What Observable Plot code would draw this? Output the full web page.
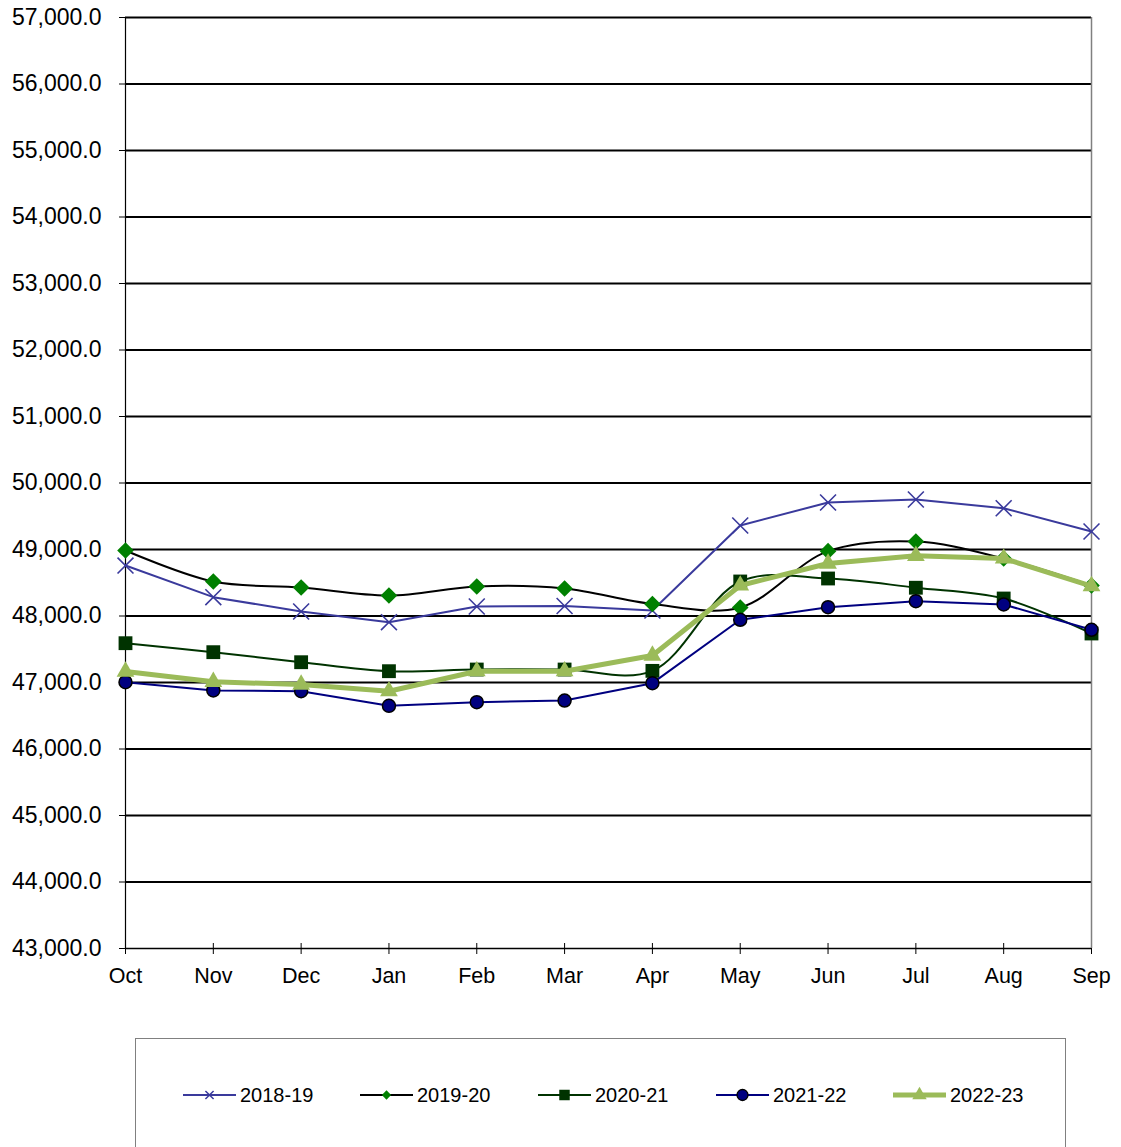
<!DOCTYPE html>
<html>
<head>
<meta charset="utf-8">
<script src="https://cdn.jsdelivr.net/npm/d3@7"></script>
<script src="https://cdn.jsdelivr.net/npm/@observablehq/plot@0.6"></script>
<style>
  html, body { margin: 0; padding: 0; background: #fff; overflow: hidden; }
  body { width: 1121px; height: 1147px; position: relative; font-family: "Liberation Sans", Arial, sans-serif; }
  #chart { position: absolute; left: 0; top: 0; }
  #legend { position: absolute; left: 135px; top: 1038px; width: 931px; height: 120px; border: 1px solid #808080; box-sizing: border-box; background: #fff; }
</style>
</head>
<body>
<div id="chart"></div>
<div id="legend"></div>
<script>
const months = ["Oct","Nov","Dec","Jan","Feb","Mar","Apr","May","Jun","Jul","Aug","Sep"];
const seriesNames = ["2018-19","2019-20","2020-21","2021-22","2022-23"];
const v2018_19 = [48759, 48283, 48068, 47907, 48143, 48150, 48083, 49361, 49707, 49752, 49620, 49271];
const v2019_20 = [48985, 48519, 48429, 48308, 48444, 48414, 48180, 48128, 48975, 49120, 48865, 48459];
const v2020_21 = [47591, 47456, 47305, 47170, 47195, 47195, 47175, 48519, 48564, 48425, 48263, 47737];
const v2021_22 = [47005, 46880, 46870, 46649, 46704, 46729, 46990, 47943, 48132, 48223, 48173, 47793];
const v2022_23 = [47165, 47010, 46970, 46869, 47170, 47170, 47406, 48459, 48789, 48905, 48865, 48450];
const yTicks = [43000,44000,45000,46000,47000,48000,49000,50000,51000,52000,53000,54000,55000,56000,57000];

const toRows = (vals) => months.map((m, i) => ({month: m, value: vals[i]}));
const r18 = toRows(v2018_19), r19 = toRows(v2019_20), r20 = toRows(v2020_21), r21 = toRows(v2021_22), r22 = toRows(v2022_23);

const C18 = "#3A3A9C", C19line = "#000000", C19mark = "#008000", C20 = "#003300", C21 = "#000080", C22 = "#9BBB59";

const chart = Plot.plot({
  width: 1121,
  height: 1000,
  marginLeft: 125,
  marginRight: 30,
  marginTop: 17,
  marginBottom: 52,
  style: {fontFamily: "'Liberation Sans', Arial, sans-serif", fontSize: "21px", color: "#000", background: "#fff"},
  x: {type: "point", domain: months, padding: 0, round: false, range: [125, 1091], label: null},
  y: {domain: [43000, 57000], range: [948, 17], label: null},
  marks: [
    Plot.ruleY(yTicks.filter(d => d !== 43000), {stroke: "#000", strokeWidth: 2}),
    Plot.ruleX(["Sep"], {stroke: "#808080", strokeWidth: 1.5}),
    Plot.ruleX(["Oct"], {stroke: "#000", strokeWidth: 1.2}),
    Plot.ruleY([43000], {stroke: "#000", strokeWidth: 1.5}),
    Plot.ruleX(months.slice(1, 11), {y1: 43000, y2: 43000, insetTop: -5, stroke: "#000", strokeWidth: 1}),
    Plot.axisY({ticks: yTicks, tickFormat: d3.format(",.1f"), tickSize: 6, tickPadding: 18, stroke: "#000", fontSize: 23, label: null}),
    Plot.axisX({tickSize: 6, tickPadding: 13, stroke: "#000", fontSize: 21.5, label: null}),
    // 2018-19
    Plot.line(r18, {x: "month", y: "value", stroke: C18, strokeWidth: 2}),
    Plot.dot(r18, {x: "month", y: "value", symbol: "times", r: 7.3, stroke: C18, strokeWidth: 1.6, fill: "none"}),
    // 2019-20
    Plot.line(r19, {x: "month", y: "value", stroke: C19line, strokeWidth: 2, curve: "catmull-rom"}),
    Plot.dot(r19, {x: "month", y: "value", symbol: "diamond2", r: 7.5, fill: C19mark, stroke: "none"}),
    // 2020-21
    Plot.line(r20, {x: "month", y: "value", stroke: C20, strokeWidth: 2, curve: "catmull-rom"}),
    Plot.dot(r20, {x: "month", y: "value", symbol: "square", r: 7.8, fill: C20, stroke: "none"}),
    // 2021-22
    Plot.line(r21, {x: "month", y: "value", stroke: C21, strokeWidth: 2}),
    Plot.dot(r21, {x: "month", y: "value", symbol: "circle", r: 6.5, fill: C21, stroke: "#000", strokeWidth: 1.5}),
    // 2022-23
    Plot.line(r22, {x: "month", y: "value", stroke: C22, strokeWidth: 5}),
    Plot.dot(r22, {x: "month", y: "value", symbol: "triangle", r: 6.6, fill: C22, stroke: "none"})
  ]
});
document.getElementById("chart").appendChild(chart);

// Legend
const legendItems = [
  {name: seriesNames[0], line: C18, lw: 2, sym: d3.symbolTimes, size: 45, fill: "none", stroke: C18, sw: 1.5, x: 183},
  {name: seriesNames[1], line: C19line, lw: 2, sym: d3.symbolDiamond2, size: 55, fill: C19mark, stroke: "none", sw: 0, x: 360},
  {name: seriesNames[2], line: C20, lw: 2, sym: d3.symbolSquare, size: 110, fill: C20, stroke: "none", sw: 0, x: 538},
  {name: seriesNames[3], line: C21, lw: 2, sym: d3.symbolCircle, size: 95, fill: C21, stroke: "#000", sw: 1.3, x: 716},
  {name: seriesNames[4], line: C22, lw: 5, sym: d3.symbolTriangle, size: 90, fill: C22, stroke: "none", sw: 0, x: 893}
];
const lsvg = d3.select("#legend").append("svg").attr("width", 931).attr("height", 118)
  .style("position", "absolute").style("left", "-1px").style("top", "-1px");
const cy = 1095 - 1038;
legendItems.forEach(it => {
  const x0 = it.x - 135, x1 = x0 + 53;
  const g = lsvg.append("g");
  g.append("line").attr("x1", x0).attr("x2", x1).attr("y1", cy).attr("y2", cy)
    .attr("stroke", it.line).attr("stroke-width", it.lw);
  g.append("path").attr("d", d3.symbol(it.sym, it.size)())
    .attr("transform", `translate(${(x0 + x1) / 2},${cy})`)
    .attr("fill", it.fill).attr("stroke", it.stroke).attr("stroke-width", it.sw);
  g.append("text").attr("x", x1 + 4).attr("y", cy).attr("dy", "0.36em")
    .attr("font-family", "'Liberation Sans', Arial, sans-serif").attr("font-size", 20)
    .attr("fill", "#000").text(it.name);
});
</script>
</body>
</html>
